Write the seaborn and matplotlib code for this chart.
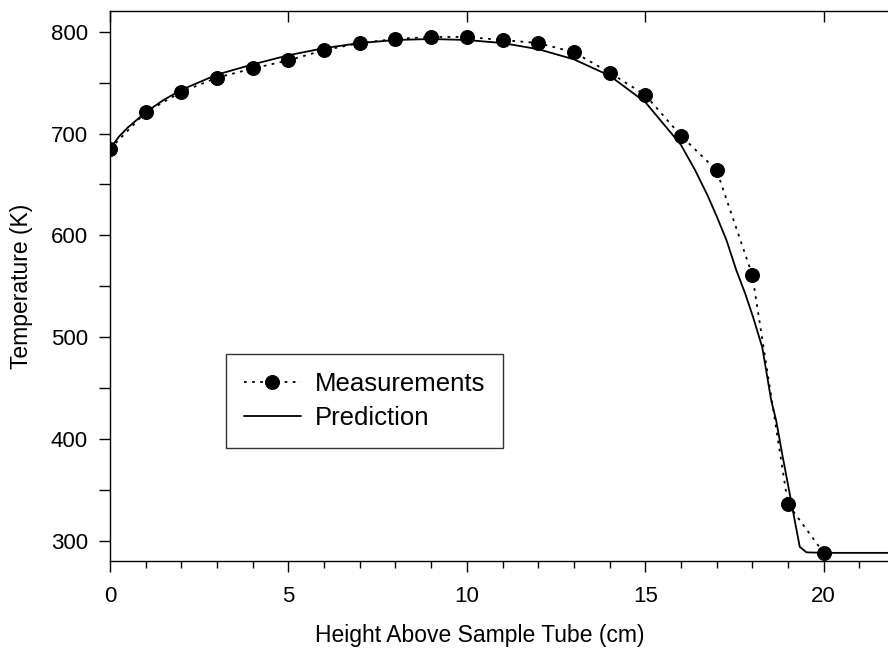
import matplotlib
matplotlib.use("Agg")
import matplotlib.pyplot as plt
import seaborn as sns
import pandas as pd
from matplotlib.ticker import MultipleLocator

meas_height = [0, 1, 2, 3, 4, 5, 6, 7, 8, 9, 10, 11, 12, 13, 14, 15, 16, 17, 18, 19, 20]
meas_temp = [685, 721, 741, 755, 764, 772, 782, 789, 793, 795, 795, 792, 789, 780, 760,
             738, 698, 664, 561, 336, 288]

# model prediction (solid curve)
pred_height = [0, 0.25, 0.5, 1, 1.5, 2, 3, 4, 5, 6, 7, 8, 9, 10, 11, 12, 13, 14, 15,
               15.5, 16, 16.4, 16.75, 17, 17.28, 17.55, 17.8, 18.02, 18.28, 18.53, 18.67,
               18.85, 19.05, 19.2, 19.33, 19.52, 20, 22]
pred_temp = [685, 697, 706, 721, 733, 743, 758, 768, 777, 784, 789, 792, 793, 792, 789,
             783, 773, 757, 731, 710, 689, 664, 639, 619, 595, 566, 543, 520, 490, 438,
             418, 383, 346, 318, 294, 288.5, 288, 288]

meas = pd.DataFrame({"x": meas_height, "y": meas_temp})
pred = pd.DataFrame({"x": pred_height, "y": pred_temp})

sns.set_style("ticks", {"text.color": "black", "axes.labelcolor": "black",
                        "xtick.color": "black", "ytick.color": "black",
                        "axes.edgecolor": "black"})
plt.rcParams["font.family"] = ["Liberation Sans", "DejaVu Sans"]

fig = plt.figure(figsize=(8.88, 6.51), dpi=100)
ax = fig.add_axes([110/888, 90/651, 785/888, 550/651])

sns.lineplot(data=meas, x="x", y="y", ax=ax, color="black", linestyle=(0, (1.5, 3)),
             linewidth=1.3, marker="o", markersize=10, markeredgecolor="black",
             label="Measurements", sort=False)
sns.lineplot(data=pred, x="x", y="y", ax=ax, color="black", linewidth=1.3,
             label="Prediction", sort=False)

ax.set_xlim(0, 22)
ax.set_ylim(280, 820.5)
ax.xaxis.set_major_locator(MultipleLocator(5))
ax.xaxis.set_minor_locator(MultipleLocator(1))
ax.yaxis.set_major_locator(MultipleLocator(100))
ax.yaxis.set_minor_locator(MultipleLocator(50))

for s in ax.spines.values():
    s.set_color("black")
    s.set_linewidth(1.0)

ax.tick_params(axis="x", which="major", direction="out", length=8, width=1,
               labelsize=16, pad=10, top=True, labelcolor="black")
ax.tick_params(axis="x", which="minor", direction="out", length=5, width=1)
ax.tick_params(axis="y", which="both", direction="out", length=8, width=1,
               labelsize=16, pad=8, labelcolor="black")
# top ticks point inward, major only
for t in ax.xaxis.get_major_ticks():
    t.tick2line.set_marker(3)  # tickdown
    t.tick2line.set_markersize(8)

ax.set_xlabel("Height Above Sample Tube (cm)", fontsize=16.5, color="black")
ax.set_ylabel("Temperature (K)", fontsize=16.5, color="black")
ax.xaxis.set_label_coords(0.471, -0.114)
ax.yaxis.set_label_coords(-0.098, 0.5)

leg = ax.legend(loc="lower left", bbox_to_anchor=(0.148, 0.205), borderaxespad=0,
                fontsize=18.5, frameon=True, fancybox=False, handlelength=2.2,
                handletextpad=0.55, borderpad=0.7, labelspacing=0.4)
leg.get_frame().set_edgecolor("black")
leg.get_frame().set_linewidth(1.0)
for txt in leg.get_texts():
    txt.set_color("black")

fig.savefig("out.png", dpi=100)
